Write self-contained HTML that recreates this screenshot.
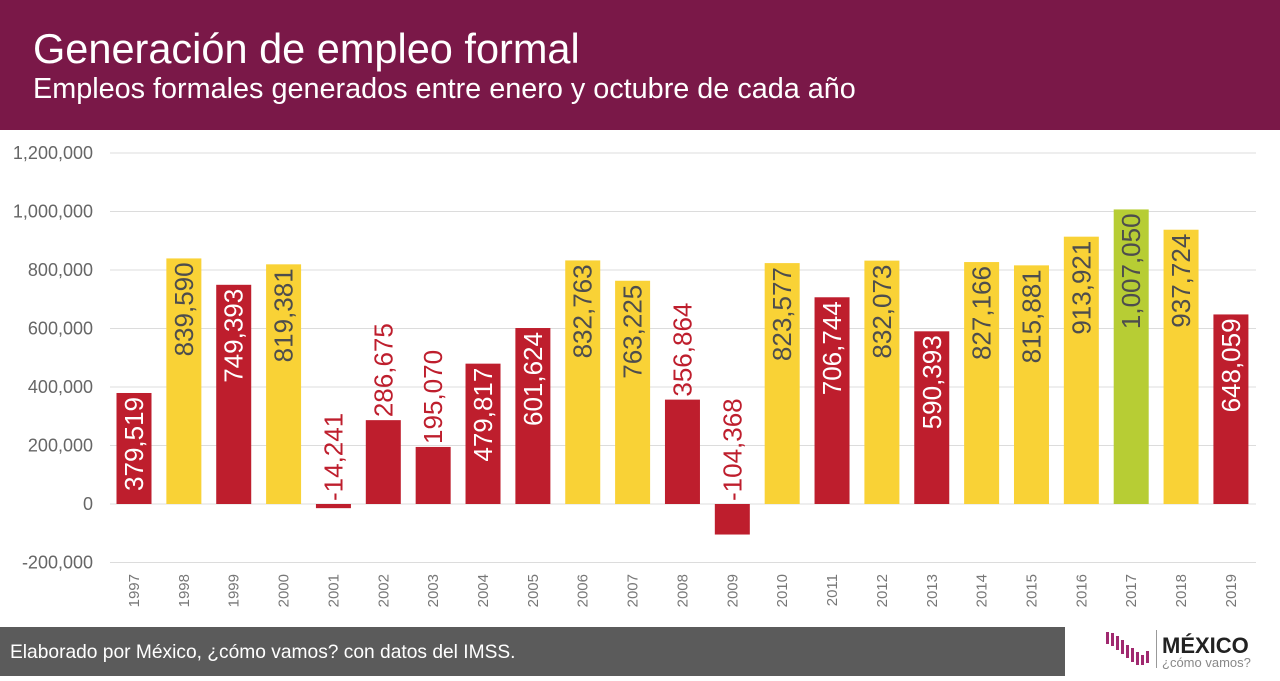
<!DOCTYPE html>
<html><head><meta charset="utf-8"><style>
body{margin:0;width:1280px;height:676px;overflow:hidden;background:#fff;font-family:"Liberation Sans",sans-serif}
</style></head><body>
<svg width="1280" height="676" xmlns="http://www.w3.org/2000/svg" font-family="Liberation Sans, sans-serif">
<rect x="0" y="0" width="1280" height="130" fill="#7a1848"/>
<text x="33" y="63" font-size="41.5" fill="#fff">Generación de empleo formal</text>
<text x="33" y="98" font-size="28.8" fill="#fff">Empleos formales generados entre enero y octubre de cada año</text>
<g id="grid"></g><g id="bars"></g><g id="labels"></g>
<rect x="0" y="627" width="1065" height="49" fill="#5b5b5b"/>
<text x="10" y="658" font-size="19.2" fill="#fff">Elaborado por México, ¿cómo vamos? con datos del IMSS.</text>
<g>
<g fill="#a0296f">
<rect x="1106" y="632" width="3" height="12"/><rect x="1111" y="633" width="3" height="13"/><rect x="1116" y="636" width="3" height="14"/><rect x="1121" y="640" width="3" height="14"/><rect x="1126" y="645" width="3" height="13"/><rect x="1131" y="648" width="3" height="14"/><rect x="1136" y="652" width="3" height="13"/><rect x="1141" y="655" width="3" height="10"/><rect x="1146" y="651" width="3" height="12"/></g>
<rect x="1156" y="630" width="1" height="38" fill="#999"/>
<text x="1162" y="653" font-size="22" font-weight="bold" fill="#222">MÉXICO</text>
<text x="1162" y="667" font-size="13" fill="#888">¿cómo vamos?</text>
</g>
</svg>
<script>
const years=["1997","1998","1999","2000","2001","2002","2003","2004","2005","2006","2007","2008","2009","2010","2011","2012","2013","2014","2015","2016","2017","2018","2019"];
const values=[379519,839590,749393,819381,-14241,286675,195070,479817,601624,832763,763225,356864,-104368,823577,706744,832073,590393,827166,815881,913921,1007050,937724,648059];
const colorKeys=["r","y","r","y","r","r","r","r","r","y","y","r","r","y","r","y","r","y","y","y","g","y","r"];
const yTicks=[-200000,0,200000,400000,600000,800000,1000000,1200000];
const NS="http://www.w3.org/2000/svg";
const y=v=>504-v*(351/1200000);
const x=i=>134+i*49.86;
const fill={r:"#be1e2d",y:"#f9d236",g:"#b7cd34"};
const fmt=v=>(v<0?"-":"")+Math.abs(v).toLocaleString("en-US");
function mk(t,a,p){const e=document.createElementNS(NS,t);for(const k in a)e.setAttribute(k,a[k]);p.appendChild(e);return e;}
const grid=document.getElementById("grid"),bars=document.getElementById("bars"),labels=document.getElementById("labels");
yTicks.forEach(t=>{
 const l=mk("line",{x1:110,x2:1256,y1:y(t),y2:y(t),stroke:"#dcdcdc","stroke-width":1},grid);
 
 
 const tx=mk("text",{x:93,y:y(t)+6,"text-anchor":"end","font-size":18,fill:"#666"},grid);
 tx.textContent=fmt(t);
 
 
});
values.forEach((v,i)=>{
 const top=y(Math.max(v,0)),bot=y(Math.min(v,0));
 const r=mk("rect",{x:x(i)-17.5,y:top,width:35,height:bot-top,fill:fill[colorKeys[i]]},bars);
 
 
 const h=y(0)-y(Math.max(v,0));
 let t;
 if(h>=108){
  t=mk("text",{transform:`translate(${x(i)+9},${top+4}) rotate(-90)`,"text-anchor":"end","font-size":26,fill:colorKeys[i]==="r"?"#fff":"#4d4d4d"},labels);
 }else{
  t=mk("text",{transform:`translate(${x(i)+9},${top-3}) rotate(-90)`,"text-anchor":"start","font-size":26,fill:"#be1e2d"},labels);
 }
 t.textContent=fmt(v);
 
 
 const xl=mk("text",{transform:`translate(${x(i)+5},574) rotate(-90)`,"text-anchor":"end","font-size":15,fill:"#777"},labels);
 xl.textContent=years[i];
 
 
});
</script>
</body></html>
